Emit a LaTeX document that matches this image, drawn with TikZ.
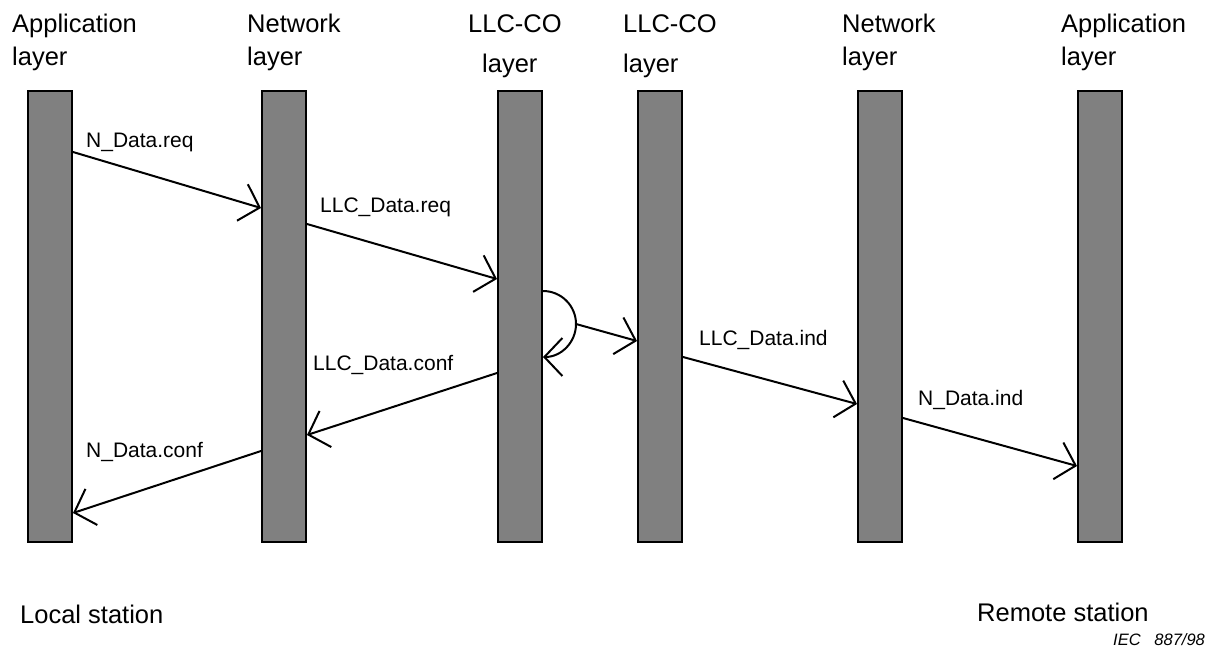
\documentclass[tikz,border=0pt]{standalone}
\usepackage{fontspec}
\setmainfont{Liberation Sans}
\usetikzlibrary{arrows.meta,calc}
\begin{document}
\begin{tikzpicture}[x=1pt,y=-1pt,
  layerbar/.style={draw=black,line width=2pt,fill=black!50,inner sep=0pt,
    minimum width=44pt,minimum height=451pt},
  head/.style={anchor=base west,inner sep=0pt,font=\fontsize{25.5}{30}\selectfont},
  msg/.style={anchor=base west,inner sep=0pt,font=\fontsize{21}{25}\selectfont},
  flow/.style={line width=2pt,-{Straight Barb[length=18pt,width=38pt]}}]
\useasboundingbox (0,0) rectangle (1207,662);

% layer bars
\node[layerbar] (app1) at (50,316.5) {};
\node[layerbar] (net1) at (284,316.5) {};
\node[layerbar] (llc1) at (520,316.5) {};
\node[layerbar] (llc2) at (660,316.5) {};
\node[layerbar] (net2) at (880,316.5) {};
\node[layerbar] (app2) at (1100,316.5) {};

% column headings
\node[head] (h1a) at (12,32) {Application};
\node[head] (h1b) at (12,65) {layer};
\node[head] (h2a) at (247,32) {Network};
\node[head] (h2b) at (247,65) {layer};
\node[head] (h3a) at (468,32) {LLC-CO};
\node[head] (h3b) at (482,72) {layer};
\node[head] (h4a) at (623,32) {LLC-CO};
\node[head] (h4b) at (623,72) {layer};
\node[head] (h5a) at (842,32) {Network};
\node[head] (h5b) at (842,65) {layer};
\node[head] (h6a) at (1061,32) {Application};
\node[head] (h6b) at (1061,65) {layer};

% primitive names
\node[msg] (m1) at (86,147) {N\_Data.req};
\node[msg] (m2) at (320,212) {LLC\_Data.req};
\node[msg] (m3) at (313,370) {LLC\_Data.conf};
\node[msg] (m4) at (699,345) {LLC\_Data.ind};
\node[msg] (m5) at (918,405) {N\_Data.ind};
\node[msg] (m6) at (86,457) {N\_Data.conf};

% request path
\draw[flow] ($(app1.north east)+(0,62)$) -- ($(net1.north west)+(0,118)$);
\draw[flow] ($(net1.north east)+(0,134)$) -- ($(llc1.north west)+(0,189)$);

% loop back at the local LLC-CO layer
\draw[flow] ($(llc1.north east)+(0,201)$) arc[start angle=-90,end angle=90,radius=33];
\coordinate (loopR) at ($(llc1.north east)+(33,234)$);
\draw[flow] (loopR) -- ($(llc2.north west)+(0,251)$);

% indication path
\draw[flow] ($(llc2.north east)+(0,267)$) -- ($(net2.north west)+(0,314)$);
\draw[flow] ($(net2.north east)+(0,328)$) -- ($(app2.north west)+(0,376)$);

% confirmation path
\draw[flow] ($(llc1.north west)+(0,283)$) -- ($(net1.north east)+(0,345)$);
\draw[flow] ($(net1.north west)+(0,361)$) -- ($(app1.north east)+(0,423)$);

% station names and figure number
\node[head] (loc) at (20,623) {Local station};
\node[head] (rem) at (977,621) {Remote station};
\node[anchor=base west,inner sep=0pt,font=\fontsize{16.5}{20}\selectfont\itshape] (fig) at (1113,645) {IEC\ \ \ 887/98};
\end{tikzpicture}
\end{document}
